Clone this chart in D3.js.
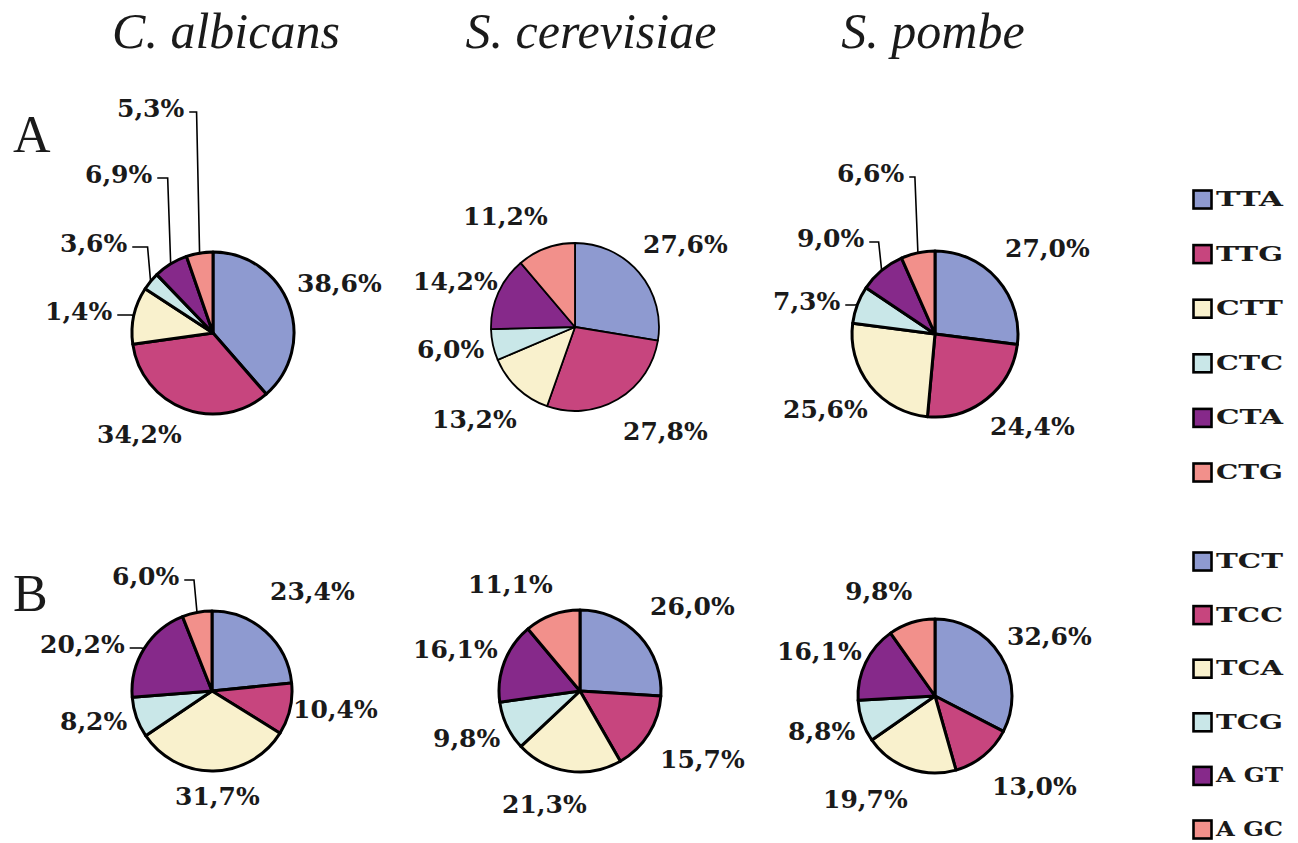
<!DOCTYPE html>
<html>
<head>
<meta charset="utf-8">
<script src="https://cdn.jsdelivr.net/npm/d3@7"></script>
<style>
  html, body { margin: 0; padding: 0; background: #ffffff; }
  svg { display: block; }
</style>
</head>
<body>
<svg id="chart" width="1298" height="843"></svg>
<script>
// ---------------- DATA ----------------
const species = ["C. albicans", "S. cerevisiae", "S. pombe"];
const panels = ["A", "B"];
const codonsA = ["TTA", "TTG", "CTT", "CTC", "CTA", "CTG"];
const codonsB = ["TCT", "TCC", "TCA", "TCG", "AGT", "AGC"];

// Panel A (leucine codons) – slice sizes
const valuesA_albicans   = [38.6, 34.2, 11.4, 3.6, 6.9, 5.3];
const valuesA_cerevisiae = [27.6, 27.8, 13.2, 6.0, 14.2, 11.2];
const valuesA_pombe      = [27.0, 24.4, 25.6, 7.3, 9.0, 6.6];
// Panel B (serine codons)
const valuesB_albicans   = [23.4, 10.4, 31.7, 8.2, 20.2, 6.0];
const valuesB_cerevisiae = [26.0, 15.7, 21.3, 9.8, 16.1, 11.1];
const valuesB_pombe      = [32.6, 13.0, 19.7, 8.8, 16.1, 9.8];

// Printed label texts (as in the figure)
const labelsA_albicans   = ["38,6%", "34,2%", "1,4%", "3,6%", "6,9%", "5,3%"];
const labelsA_cerevisiae = ["27,6%", "27,8%", "13,2%", "6,0%", "14,2%", "11,2%"];
const labelsA_pombe      = ["27,0%", "24,4%", "25,6%", "7,3%", "9,0%", "6,6%"];
const labelsB_albicans   = ["23,4%", "10,4%", "31,7%", "8,2%", "20,2%", "6,0%"];
const labelsB_cerevisiae = ["26,0%", "15,7%", "21,3%", "9,8%", "16,1%", "11,1%"];
const labelsB_pombe      = ["32,6%", "13,0%", "19,7%", "8,8%", "16,1%", "9,8%"];

// ---------------- STYLE / LAYOUT ----------------
const sliceColors = ["#8e9ad0", "#c7457e", "#f9f1cd", "#c9e7e8", "#86298a", "#f2908b"];

// pie layout: center, radius, outline width, label offsets [dx, dy baseline, leader?]
const pieLayout = [
  { values: valuesA_albicans, labels: labelsA_albicans, codons: codonsA, cx: 213, cy: 333, r: 81, sw: 3,
    lab: [[84,-41,0],[-116,110,0],[-168,-13,1],[-153,-81,1],[-128,-150,1],[-96,-216,1]] },
  { values: valuesA_cerevisiae, labels: labelsA_cerevisiae, codons: codonsA, cx: 575, cy: 327, r: 84, sw: 1.8,
    lab: [[68,-74,0],[48,113,0],[-143,101,0],[-158,31,0],[-162,-37,0],[-112,-102,0]] },
  { values: valuesA_pombe, labels: labelsA_pombe, codons: codonsA, cx: 935, cy: 334, r: 83, sw: 3,
    lab: [[70,-77,0],[55,101,0],[-152,84,0],[-162,-24,1],[-138,-87,1],[-98,-152,1]] },
  { values: valuesB_albicans, labels: labelsB_albicans, codons: codonsB, cx: 212, cy: 691, r: 80, sw: 3,
    lab: [[58,-91,0],[81,27,0],[-37,114,0],[-152,39,0],[-172,-38,1],[-100,-106,1]] },
  { values: valuesB_cerevisiae, labels: labelsB_cerevisiae, codons: codonsB, cx: 580, cy: 691, r: 81, sw: 3,
    lab: [[70,-76,0],[80,77,0],[-78,122,0],[-147,56,0],[-167,-33,0],[-112,-98,0]] },
  { values: valuesB_pombe, labels: labelsB_pombe, codons: codonsB, cx: 935, cy: 696, r: 77, sw: 3,
    lab: [[72,-51,0],[57,99,0],[-112,112,0],[-147,44,0],[-158,-36,0],[-90,-96,0]] }
];

const titleX = [226, 591, 933];
const panelLetterY = [152, 611];
const legendLayout = [
  { codons: codonsA, x: 1192, y0: 189, step: 54.6 },
  { codons: codonsB, x: 1192, y0: 551, step: 53.6 }
];

const svg = d3.select("#chart");
const textColor = "#1a1a1a";
const labelFont = "'DejaVu Serif', serif";

// ---------------- TITLES ----------------
svg.selectAll("text.title").data(species).join("text")
  .attr("class", "title")
  .attr("x", (d, i) => titleX[i])
  .attr("y", 48)
  .attr("text-anchor", "middle")
  .attr("font-family", "'Liberation Serif', 'Times New Roman', serif")
  .attr("font-style", "italic")
  .attr("font-size", 50)
  .attr("fill", textColor)
  .text(d => d);

svg.selectAll("text.panel").data(panels).join("text")
  .attr("class", "panel")
  .attr("x", 13)
  .attr("y", (d, i) => panelLetterY[i])
  .attr("font-family", "'Liberation Serif', 'Times New Roman', serif")
  .attr("font-size", 52)
  .attr("fill", textColor)
  .text(d => d);

// ---------------- PIES ----------------
const pie = d3.pie().sort(null).value(d => d);

pieLayout.forEach(p => {
  const color = d3.scaleOrdinal(p.codons, sliceColors);
  const arc = d3.arc().innerRadius(0).outerRadius(p.r);
  const g = svg.append("g").attr("transform", `translate(${p.cx},${p.cy})`);
  const arcs = pie(p.values);

  g.selectAll("path").data(arcs).join("path")
    .attr("d", arc)
    .attr("fill", (d, i) => color(p.codons[i]))
    .attr("stroke", "#000")
    .attr("stroke-width", p.sw)
    .attr("stroke-linejoin", "round");

  const labels = g.selectAll("text.lbl").data(arcs).join("text")
    .attr("class", "lbl")
    .attr("x", (d, i) => p.lab[i][0])
    .attr("y", (d, i) => p.lab[i][1])
    .attr("font-family", labelFont)
    .attr("font-weight", "bold")
    .attr("font-size", 25)
    .attr("fill", textColor)
    .text((d, i) => p.labels[i]);

  // leader lines
  labels.each(function(d, i) {
    if (!p.lab[i][2]) return;
    const w = this.getComputedTextLength();
    const a = (d.startAngle + d.endAngle) / 2;
    const px = Math.sin(a) * p.r, py = -Math.cos(a) * p.r;
    const x0 = p.lab[i][0] + w + 5;
    const ly = p.lab[i][1] - 5;
    const ex = Math.max(x0 + 2, px - 3);
    g.append("path")
      .attr("d", d3.line()([[x0, ly], [ex, ly], [px, py]]))
      .attr("fill", "none")
      .attr("stroke", "#000")
      .attr("stroke-width", 1.6);
  });
});

// ---------------- LEGENDS ----------------
legendLayout.forEach(L => {
  const color = d3.scaleOrdinal(L.codons, sliceColors);
  const g = svg.append("g");
  const items = g.selectAll("g").data(L.codons).join("g")
    .attr("transform", (d, i) => `translate(${L.x},${L.y0 + i * L.step})`);
  items.append("rect")
    .attr("x", 1.5).attr("y", 1.5)
    .attr("width", 18).attr("height", 18)
    .attr("fill", d => color(d))
    .attr("stroke", "#000")
    .attr("stroke-width", 2.6);
  items.append("text")
    .attr("x", 24)
    .attr("y", 17)
    .attr("font-family", labelFont)
    .attr("font-weight", "bold")
    .attr("font-size", 20)
    .attr("textLength", 67)
    .attr("lengthAdjust", "spacingAndGlyphs")
    .attr("fill", textColor)
    .text(d => d.replace(/^AG/, "A G"));
});
</script>
</body>
</html>
